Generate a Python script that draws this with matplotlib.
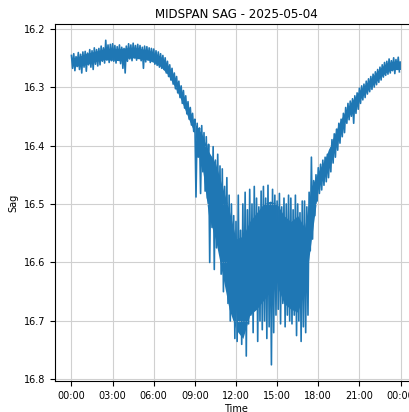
import numpy as np
import pandas as pd
import matplotlib
matplotlib.use("Agg")
import matplotlib.pyplot as plt
import matplotlib.dates as mdates

# sag range inside each 10-minute window (top = smallest sag, bot = largest sag)
# one row per hour
sag_top = [
    16.246, 16.243, 16.248, 16.241, 16.244, 16.240,  # 00
    16.239, 16.242, 16.236, 16.238, 16.233, 16.236,  # 01
    16.234, 16.230, 16.233, 16.220, 16.228, 16.227,  # 02
    16.226, 16.229, 16.231, 16.228, 16.232, 16.234,  # 03
    16.230, 16.226, 16.228, 16.225, 16.229, 16.227,  # 04
    16.229, 16.232, 16.230, 16.231, 16.233, 16.234,  # 05
    16.235, 16.238, 16.240, 16.243, 16.246, 16.250,  # 06
    16.256, 16.262, 16.268, 16.276, 16.282, 16.290,  # 07
    16.298, 16.306, 16.315, 16.325, 16.335, 16.345,  # 08
    16.355, 16.362, 16.370, 16.366, 16.378, 16.385,  # 09
    16.398, 16.420, 16.402, 16.425, 16.415, 16.435,  # 10
    16.440, 16.470, 16.455, 16.485, 16.500, 16.520,  # 11
    16.530, 16.485, 16.545, 16.500, 16.480, 16.510,  # 12
    16.475, 16.500, 16.470, 16.490, 16.505, 16.478,  # 13
    16.470, 16.490, 16.468, 16.500, 16.475, 16.485,  # 14
    16.495, 16.482, 16.505, 16.490, 16.500, 16.485,  # 15
    16.490, 16.510, 16.485, 16.500, 16.515, 16.495,  # 16
    16.495, 16.505, 16.480, 16.420, 16.460, 16.450,  # 17
    16.438, 16.432, 16.425, 16.420, 16.415, 16.408,  # 18
    16.390, 16.380, 16.372, 16.362, 16.355, 16.345,  # 19
    16.335, 16.328, 16.324, 16.320, 16.315, 16.310,  # 20
    16.302, 16.298, 16.295, 16.290, 16.286, 16.282,  # 21
    16.278, 16.274, 16.270, 16.266, 16.262, 16.258,  # 22
    16.256, 16.252, 16.255, 16.250, 16.253, 16.249,  # 23
]
sag_bot = [
    16.268, 16.272, 16.265, 16.270, 16.276, 16.266,  # 00
    16.273, 16.262, 16.266, 16.270, 16.261, 16.264,  # 01
    16.262, 16.256, 16.259, 16.254, 16.258, 16.255,  # 02
    16.256, 16.259, 16.254, 16.260, 16.268, 16.276,  # 03
    16.256, 16.252, 16.255, 16.250, 16.254, 16.251,  # 04
    16.255, 16.268, 16.257, 16.254, 16.258, 16.256,  # 05
    16.261, 16.263, 16.266, 16.268, 16.270, 16.276,  # 06
    16.282, 16.288, 16.295, 16.303, 16.310, 16.318,  # 07
    16.328, 16.336, 16.346, 16.355, 16.365, 16.376,  # 08
    16.488, 16.420, 16.482, 16.445, 16.478, 16.490,  # 09
    16.600, 16.540, 16.612, 16.575, 16.560, 16.620,  # 10
    16.650, 16.610, 16.670, 16.700, 16.660, 16.730,  # 11
    16.735, 16.700, 16.740, 16.715, 16.760, 16.705,  # 12
    16.690, 16.720, 16.680, 16.735, 16.700, 16.715,  # 13
    16.700, 16.730, 16.710, 16.775, 16.720, 16.690,  # 14
    16.680, 16.705, 16.670, 16.710, 16.690, 16.700,  # 15
    16.705, 16.690, 16.725, 16.700, 16.735, 16.710,  # 16
    16.720, 16.690, 16.580, 16.560, 16.520, 16.495,  # 17
    16.482, 16.476, 16.468, 16.462, 16.455, 16.445,  # 18
    16.430, 16.420, 16.408, 16.396, 16.385, 16.378,  # 19
    16.362, 16.356, 16.350, 16.362, 16.345, 16.338,  # 20
    16.328, 16.322, 16.318, 16.312, 16.308, 16.304,  # 21
    16.300, 16.296, 16.292, 16.288, 16.283, 16.280,  # 22
    16.278, 16.276, 16.272, 16.277, 16.270, 16.274,  # 23
]

# dense core of the trace, every 30 minutes (00:00 .. 24:00)
core_top = [
    16.250, 16.248, 16.243, 16.240, 16.237, 16.234, 16.234, 16.234,  # 00-03:30
    16.233, 16.232, 16.234, 16.236, 16.241, 16.248, 16.262, 16.282,  # 04-07:30
    16.308, 16.336, 16.362, 16.380, 16.410, 16.430, 16.470, 16.510,  # 08-11:30
    16.560, 16.555, 16.530, 16.515, 16.500, 16.495, 16.500, 16.520,  # 12-15:30
    16.530, 16.520, 16.540, 16.470, 16.445, 16.422, 16.392, 16.362,  # 16-19:30
    16.340, 16.322, 16.306, 16.294, 16.281, 16.268, 16.259, 16.256,  # 20-23:30
    16.255,
]
core_bot = [
    16.264, 16.264, 16.262, 16.258, 16.255, 16.253, 16.254, 16.255,
    16.251, 16.250, 16.252, 16.253, 16.258, 16.265, 16.278, 16.298,
    16.322, 16.352, 16.380, 16.430, 16.520, 16.560, 16.620, 16.680,
    16.715, 16.730, 16.690, 16.680, 16.665, 16.650, 16.640, 16.670,
    16.680, 16.685, 16.650, 16.560, 16.472, 16.450, 16.420, 16.388,
    16.355, 16.342, 16.322, 16.308, 16.296, 16.284, 16.274, 16.270,
    16.270,
]

day = "2025-05-04"
t0 = pd.date_range(day + " 00:00", periods=len(sag_top), freq="10min")
t1 = t0 + pd.Timedelta(minutes=5)
t_core = pd.date_range(day + " 00:00", periods=len(core_top), freq="30min")

# interleave the window extremes into one zigzag trace
times = np.empty(2 * len(t0), dtype="datetime64[ns]")
times[0::2] = t0.values
times[1::2] = t1.values
sag = np.empty(2 * len(t0))
sag[0::2] = sag_top
sag[1::2] = sag_bot

fig = plt.figure(figsize=(4.09, 4.12), dpi=100)
ax = fig.add_axes([0.1345, 0.0752, 0.885, 0.8665])

ax.fill_between(t_core, core_top, core_bot, color="#1f77b4", lw=0)
ax.plot(times, sag, color="#1f77b4", lw=1.2)

start = pd.Timestamp(day)
ax.set_xlim(start - pd.Timedelta(hours=1.2), start + pd.Timedelta(hours=25.2))
ax.invert_yaxis()

ax.xaxis.set_major_locator(mdates.HourLocator(byhour=range(0, 24, 3)))
ax.xaxis.set_major_formatter(mdates.DateFormatter("%H:%M"))
ax.tick_params(labelsize=7)
ax.grid(True, color="#d0d0d0", lw=0.8)

ax.set_title("MIDSPAN SAG - " + day, fontsize=8.6, pad=4)
ax.set_xlabel("Time", fontsize=7, labelpad=2)
ax.set_ylabel("Sag", fontsize=7, labelpad=4)

fig.savefig("out.png", dpi=100)
